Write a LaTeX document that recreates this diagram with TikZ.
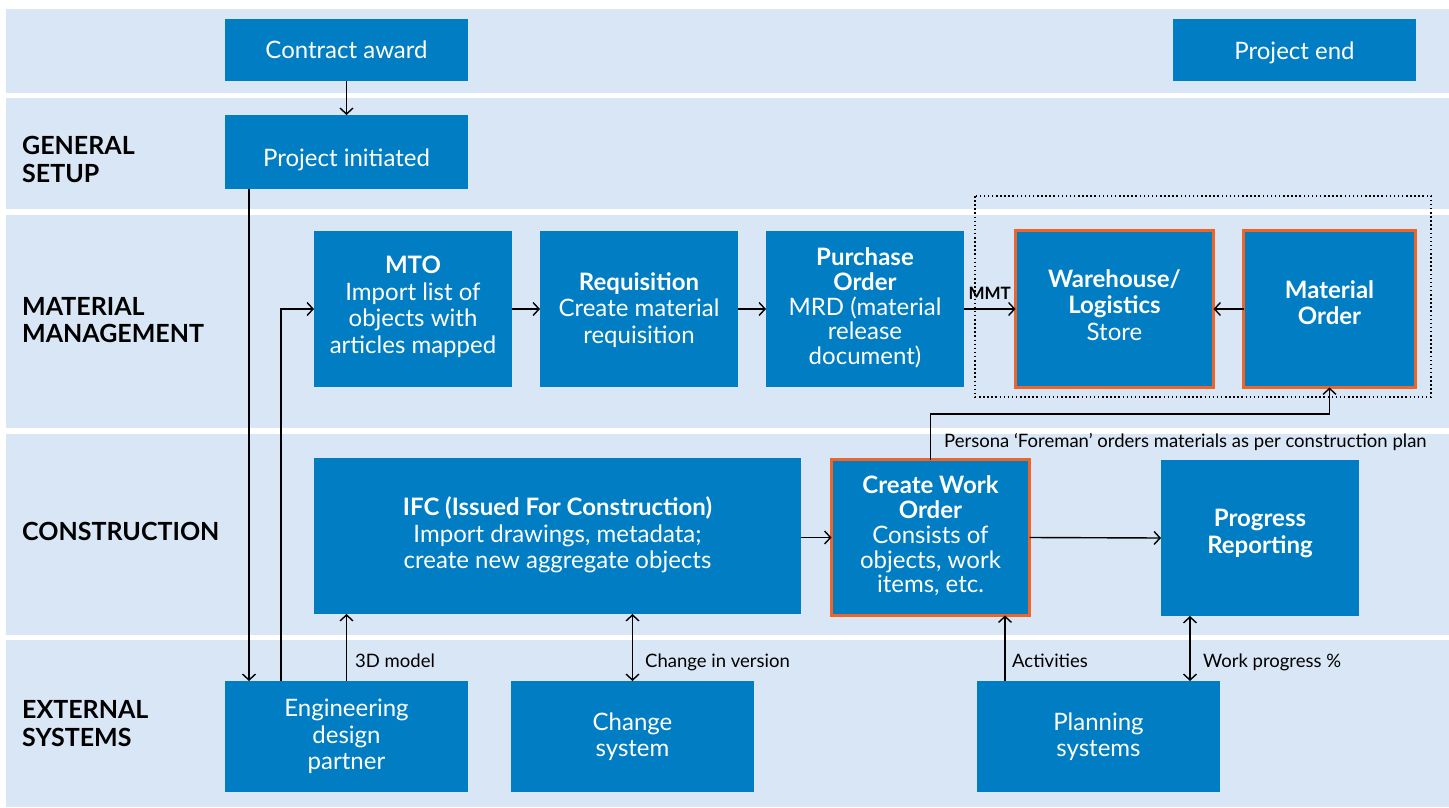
\documentclass[tikz,border=0pt]{standalone}
\usepackage{fontspec}
\setmainfont{Lato}
\usetikzlibrary{arrows.meta}
\definecolor{band}{RGB}{217,230,245}
\definecolor{boxblue}{RGB}{0,125,195}
\definecolor{orng}{RGB}{240,100,40}
\begin{document}
\begin{tikzpicture}[x=1pt,y=-1pt,
  box/.style={fill=boxblue, inner sep=0pt, outer sep=0pt},
  obox/.style={box, draw=orng, line width=3pt},
  bt/.style={text=white, align=center, inner sep=0pt, font=\fontsize{24}{26.5}\selectfont},
  btt/.style={bt, font=\fontsize{24}{24.8}\selectfont},
  lane/.style={font=\fontsize{25}{27.5}\selectfont\bfseries, align=left, anchor=west, inner sep=0pt},
  lbl/.style={font=\fontsize{18.5}{20}\selectfont, anchor=base west, inner sep=0pt},
  tip/.style={Straight Barb[length=6pt,width=13pt,line width=1.4pt]},
  arr/.style={-{Straight Barb[length=6pt,width=13pt,line width=1.4pt]}, line width=1.4pt},
  darr/.style={{Straight Barb[length=6pt,width=13pt,line width=1.4pt]}-{Straight Barb[length=6pt,width=13pt,line width=1.4pt]}, line width=1.4pt}
]
\useasboundingbox (0,0) rectangle (1449,808);
% lanes
\fill[band] (6,9) rectangle (1449,93);
\fill[band] (6,98) rectangle (1449,209);
\fill[band] (6,215) rectangle (1449,428);
\fill[band] (6,434) rectangle (1449,635);
\fill[band] (6,640) rectangle (1449,807);
% lane labels
\node[lane] (lgs) at (22,159.5) {GENERAL\\SETUP};
\node[lane] (lmm) at (22,320) {MATERIAL\\MANAGEMENT};
\node[lane] (lc) at (22,531) {CONSTRUCTION};
\node[lane] (les) at (22,723.5) {EXTERNAL\\SYSTEMS};
% dotted group
\draw[line width=1.5pt, dash pattern=on 1.5pt off 2.6pt] (975,196) rectangle (1431,397);
% boxes
\node[box, minimum width=243pt, minimum height=62pt,
  label={[bt]center:Contract award}] (ca) at (346.5,50) {};
\node[box, minimum width=243pt, minimum height=74pt,
  label={[bt, yshift=-8pt]center:Project initiated}] (pi) at (346.5,152) {};
\node[box, minimum width=243pt, minimum height=62pt,
  label={[bt, yshift=-2.4pt]center:Project end}] (pe) at (1294.5,50) {};
\node[box, minimum width=198pt, minimum height=156pt,
  label={[bt, yshift=2pt]center:{{\bfseries MTO}\\Import list of\\objects with\\articles mapped}}] (mto) at (413,309) {};
\node[box, minimum width=198pt, minimum height=156pt,
  label={[bt, yshift=-1pt]center:{{\bfseries Requisition}\\Create material\\requisition}}] (req) at (639,309) {};
\node[box, minimum width=198pt, minimum height=156pt,
  label={[btt, yshift=1pt]center:{{\bfseries Purchase}\\{\bfseries Order}\\MRD (material\\release\\document)}}] (po) at (865,309) {};
\node[obox, minimum width=198pt, minimum height=157pt,
  label={[bt, yshift=4pt]center:{{\bfseries Warehouse/}\\{\bfseries Logistics}\\Store}}] (wh) at (1114.5,309) {};
\node[obox, minimum width=172pt, minimum height=157pt,
  label={[bt, yshift=6.5pt]center:{{\bfseries Material}\\{\bfseries Order}}}] (mo) at (1329.5,309) {};
\node[box, minimum width=487pt, minimum height=156pt,
  label={[bt, yshift=1pt]center:{{\bfseries IFC (Issued For Construction)}\\Import drawings, metadata;\\create new aggregate objects}}] (ifc) at (557.5,536) {};
\node[obox, minimum width=198pt, minimum height=156pt,
  label={[btt, yshift=1.5pt]center:{{\bfseries Create Work}\\{\bfseries Order}\\Consists of\\objects, work\\items, etc.}}] (cwo) at (930.5,537.5) {};
\node[box, minimum width=198pt, minimum height=156pt,
  label={[bt, yshift=4.5pt]center:{{\bfseries Progress}\\{\bfseries Reporting}}}] (pr) at (1260,538) {};
\node[box, minimum width=243pt, minimum height=111pt,
  label={[bt]center:{Engineering\\design\\partner}}] (eng) at (346.5,736.5) {};
\node[box, minimum width=243pt, minimum height=111pt,
  label={[bt]center:{Change\\system}}] (chg) at (632.5,736.5) {};
\node[box, minimum width=243pt, minimum height=111pt,
  label={[bt]center:{Planning\\systems}}] (plan) at (1098.5,736.5) {};
% connectors
\draw[arr] (ca) -- (pi);
\draw[arr] ([xshift=24pt]pi.south west) -- ([xshift=24pt]eng.north west);
\draw[arr] ([xshift=56pt]eng.north west) |- (mto.west);
\draw[arr] (mto) -- (req);
\draw[arr] (req) -- (po);
\draw[arr] (po) -- node[above, font=\fontsize{17}{20}\selectfont\bfseries, inner sep=0pt, yshift=9pt] (mmt) {MMT} (wh);
\draw[arr] (mo) -- (wh);
\draw[arr] (cwo.north) -- ++(0,-45.5) -| (mo.south);
\node[lbl] (persona) at (944,447) {Persona ‘Foreman’ orders materials as per construction plan};
\draw[arr] (ifc.east |- cwo.west) -- (cwo.west);
\draw[arr] (cwo.east) -- (pr.west);
\draw[arr] (eng.north) -- (eng.north |- ifc.south);
\node[lbl] (l3d) at (355,667) {3D model};
\draw[darr] (chg.north) -- (chg.north |- ifc.south);
\node[lbl] (lchg) at (645,667) {Change in version};
\draw[arr] ([xshift=28pt]plan.north west) -- ([xshift=28pt]plan.north west |- cwo.south);
\node[lbl] (lact) at (1012,667) {Activities};
\draw[darr] ([xshift=213pt]plan.north west) -- ([xshift=213pt]plan.north west |- pr.south);
\node[lbl] (lwp) at (1203,667) {Work progress \%};
\end{tikzpicture}
\end{document}
